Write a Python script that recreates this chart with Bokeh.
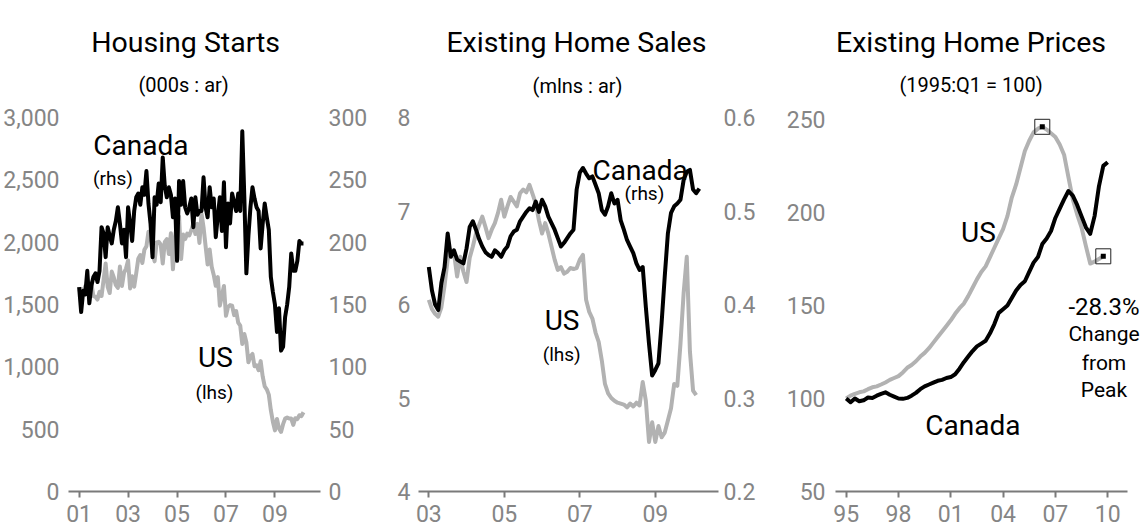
from bokeh.plotting import figure
from bokeh.layouts import row
from bokeh.models import Range1d, LinearAxis, FixedTicker, NumeralTickFormatter, Label
from bokeh.embed import file_html
from bokeh.resources import INLINE

# ---------------- data ----------------
# Panel 1: Housing starts, monthly from Jan 2001 (000s : annual rate)
starts_start_year = 2001
us_starts = [
    1600, 1625, 1590, 1649, 1605, 1636, 1670, 1567, 1562, 1540, 1602, 1568,
    1698, 1829, 1642, 1592, 1764, 1717, 1655, 1633, 1804, 1648, 1753, 1788,
    1854, 1629, 1726, 1643, 1751, 1867, 1897, 1833, 1939, 1967, 2083, 2057,
    1911, 1846, 1998, 2003, 1981, 1828, 2002, 2024, 1905, 2072, 1782, 2042,
    2144, 2207, 1864, 2061, 2025, 2068, 2054, 2095, 2151, 2065, 2147, 1994,
    2230, 2119, 1969, 1821, 1942, 1802, 1737, 1650, 1720, 1491, 1570, 1649,
    1409, 1480, 1495, 1490, 1415, 1448, 1354, 1330, 1183, 1264, 1197, 1037,
    1084, 1103, 1005, 1013, 973, 1046, 923, 844, 820, 777, 652, 560,
    490, 582, 505, 478, 540, 585, 594, 586, 585, 534, 588, 581,
    612, 605, 636,
]
canada_starts = [
    164, 144, 161, 158, 177, 151, 165, 172, 175, 168, 177, 212,
    207, 188, 212, 205, 199, 210, 217, 228, 215, 199, 210, 188,
    228, 215, 201, 225, 236, 239, 230, 244, 238, 257, 231, 215,
    188, 236, 230, 247, 232, 268, 245, 236, 244, 238, 220, 235,
    185, 249, 230, 249, 228, 223, 228, 235, 212, 236, 222, 225,
    225, 252, 228, 220, 244, 228, 235, 204, 221, 236, 209, 248,
    196, 231, 215, 239, 232, 225, 239, 225, 289, 236, 175, 205,
    228, 244, 235, 228, 225, 195, 215, 231, 220, 210, 172, 160,
    150, 128, 147, 113, 116, 140, 150, 164, 191, 177, 177, 185,
    201, 199, 199,
]
starts_ticks = [2001, 2003, 2005, 2007, 2009]
starts_tick_labels = ["01", "03", "05", "07", "09"]
starts_lhs_ticks = [0, 500, 1000, 1500, 2000, 2500, 3000]
starts_rhs_ticks = [0, 50, 100, 150, 200, 250, 300]

# Panel 2: Existing home sales, monthly from Jan 2003 (mlns : annual rate)
sales_start_year = 2003
us_sales = [
    6.05, 5.95, 5.90, 5.87, 5.97, 6.20, 6.48, 6.58, 6.55, 6.30, 6.51, 6.35,
    6.24, 6.50, 6.62, 6.76, 6.85, 6.94, 6.83, 6.71, 6.80, 6.87, 6.98, 7.12,
    6.94, 7.05, 7.15, 7.10, 7.05, 7.19, 7.23, 7.20, 7.28, 7.18, 7.08, 6.90,
    6.76, 6.87, 6.76, 6.62, 6.48, 6.37, 6.40, 6.33, 6.35, 6.39, 6.38, 6.39,
    6.48, 6.53, 6.05, 5.92, 5.85, 5.70, 5.60, 5.40, 5.15, 5.05, 5.00, 4.97,
    4.95, 4.94, 4.93, 4.90, 4.94, 4.91, 4.95, 4.92, 5.17, 4.97, 4.53, 4.74,
    4.53, 4.70, 4.58, 4.63, 4.76, 4.89, 5.15, 5.13, 5.58, 6.12, 6.51, 5.50,
    5.08, 5.03,
]
canada_sales = [
    0.440, 0.415, 0.400, 0.394, 0.423, 0.440, 0.476, 0.451, 0.458, 0.448, 0.446, 0.444,
    0.460, 0.483, 0.489, 0.480, 0.470, 0.462, 0.456, 0.453, 0.451, 0.458, 0.455, 0.451,
    0.458, 0.462, 0.473, 0.478, 0.480, 0.489, 0.494, 0.499, 0.503, 0.501, 0.510, 0.499,
    0.512, 0.505, 0.494, 0.487, 0.480, 0.471, 0.462, 0.466, 0.471, 0.476, 0.480, 0.523,
    0.541, 0.546, 0.540, 0.535, 0.537, 0.528, 0.519, 0.501, 0.496, 0.505, 0.519, 0.508,
    0.512, 0.490, 0.480, 0.469, 0.462, 0.455, 0.444, 0.437, 0.440, 0.397, 0.358, 0.324,
    0.330, 0.337, 0.380, 0.430, 0.476, 0.498, 0.505, 0.508, 0.512, 0.533, 0.542, 0.544,
    0.523, 0.519, 0.524,
]
sales_ticks = [2003, 2005, 2007, 2009]
sales_tick_labels = ["03", "05", "07", "09"]
sales_lhs_ticks = [4, 5, 6, 7, 8]
sales_rhs_ticks = [0.2, 0.3, 0.4, 0.5, 0.6]

# Panel 3: Existing home prices, quarterly from 1995:Q1 (1995:Q1 = 100)
prices_start_year = 1995
us_prices = [
    100.0, 101.5, 102.5, 103.3,
    103.8, 105.0, 106.0, 106.5,
    107.5, 108.6, 110.0, 111.0,
    112.0, 114.0, 116.5, 118.0,
    120.0, 122.5, 124.5, 127.0,
    130.0, 133.0, 136.0, 139.0,
    142.0, 145.5, 148.5, 151.0,
    155.0, 159.5, 164.0, 168.0,
    171.0, 176.0, 181.0, 186.0,
    191.0, 198.0, 208.0, 215.0,
    224.0, 233.0, 238.5, 243.0,
    245.0, 246.0, 244.5, 242.5,
    240.5, 236.5, 231.0, 219.0,
    207.0, 199.0, 192.0, 182.0,
    172.5, 173.5, 175.0, 176.4,
]
canada_prices = [
    100.0, 98.0, 100.0, 98.5,
    99.0, 100.5, 100.3, 101.5,
    102.5, 103.3, 102.0, 101.0,
    100.0, 99.8, 100.3, 101.5,
    103.0, 105.0, 106.5, 107.5,
    108.5, 109.5, 110.0, 111.0,
    111.5, 113.0, 116.0, 119.5,
    122.5, 125.5, 128.0, 129.5,
    131.0, 135.0, 140.0, 146.0,
    148.0, 150.0, 154.0, 158.0,
    161.0, 163.0, 168.0, 173.0,
    176.0, 183.0, 186.0, 190.0,
    197.0, 202.0, 207.0, 211.5,
    209.0, 204.0, 198.0, 192.0,
    188.5, 198.0, 214.0, 225.0,
    227.0,
]
prices_ticks = [1995, 1998, 2001, 2004, 2007, 2010]
prices_tick_labels = ["95", "98", "01", "04", "07", "10"]
prices_ticks_y = [50, 100, 150, 200, 250]

# ---------------- style ----------------
FONT = "Roboto"
BLACK = "#000000"
GRAY_LINE = "#b2b2b2"
TICK_GRAY = "#858585"
AXIS_GRAY = "#7a7a7a"
LW = 4
H = 531
TICK_FS = "23px"
TITLE_FS = 28.5
# the frame spans from the top of the figure down to the x axis (491 px);
# the labelled tick range occupies its lower 374 px
FRAME_FRAC = 491 / 374


def top_of(lo, hi):
    return lo + (hi - lo) * FRAME_FRAC


def base_fig(width, xr, yr, left, right):
    p = figure(width=width, height=H, x_range=Range1d(*xr),
               y_range=Range1d(yr[0], top_of(*yr)),
               output_backend="svg", toolbar_location=None,
               min_border_left=left, min_border_right=right,
               min_border_top=0, min_border_bottom=40)
    p.grid.visible = False
    p.outline_line_color = None
    p.background_fill_color = "white"
    p.border_fill_color = "white"
    return p


def style_y(ax, ticks, standoff, fmt=None):
    ax.ticker = FixedTicker(ticks=ticks)
    ax.axis_line_color = None
    ax.major_tick_line_color = None
    ax.minor_tick_line_color = None
    ax.major_tick_in = 0
    ax.major_tick_out = 0
    ax.minor_tick_in = 0
    ax.minor_tick_out = 0
    ax.major_label_text_font = FONT
    ax.major_label_text_font_size = TICK_FS
    ax.major_label_text_color = TICK_GRAY
    ax.major_label_standoff = standoff
    if fmt is not None:
        ax.formatter = fmt


def style_x(ax, ticks, labels):
    ax.ticker = FixedTicker(ticks=ticks)
    ax.major_label_overrides = {t: l for t, l in zip(ticks, labels)}
    ax.axis_line_color = AXIS_GRAY
    ax.axis_line_width = 2
    ax.major_tick_line_color = AXIS_GRAY
    ax.major_tick_line_width = 2
    ax.major_tick_in = 0
    ax.major_tick_out = 6
    ax.minor_tick_line_color = None
    ax.minor_tick_in = 0
    ax.minor_tick_out = 0
    ax.major_label_text_font = FONT
    ax.major_label_text_font_size = TICK_FS
    ax.major_label_text_color = TICK_GRAY
    ax.major_label_standoff = 7


def lab(p, x, y, text, size, align="center"):
    p.add_layout(Label(x=x, y=y, text=text, text_font=FONT,
                       text_font_size=f"{size}px", text_align=align,
                       text_baseline="alphabetic", text_color=BLACK))


def monthly(start, n):
    return [start + i / 12 for i in range(n)]


def quarterly(start, n):
    return [start + i / 4 for i in range(n)]


# ---------------- panel 1 ----------------
p1 = base_fig(380, (2000.566, 2010.862), (0, 3000), 66, 60)
p1.extra_y_ranges = {"rhs": Range1d(0, top_of(0, 300))}
style_x(p1.xaxis[0], starts_ticks, starts_tick_labels)
style_y(p1.yaxis[0], starts_lhs_ticks, 9, NumeralTickFormatter(format="0,0"))
r1 = LinearAxis(y_range_name="rhs")
style_y(r1, starts_rhs_ticks, 8)
p1.add_layout(r1, "right")
p1.line(monthly(starts_start_year, len(us_starts)), us_starts,
        line_color=GRAY_LINE, line_width=LW, line_join="round")
p1.line(monthly(starts_start_year, len(canada_starts)), canada_starts,
        line_color=BLACK, line_width=LW, line_join="round", y_range_name="rhs")
lab(p1, 2005.35, 3601, "Housing Starts", TITLE_FS)
lab(p1, 2005.27, 3257, "(000s : ar)", 20)
lab(p1, 2001.58, 2775, "Canada", 28, "left")
lab(p1, 2001.57, 2511, "(rhs)", 19, "left")
lab(p1, 2006.57, 1077, "US", 28)
lab(p1, 2006.53, 797, "(lhs)", 19)

# ---------------- panel 2 ----------------
p2 = base_fig(380, (2002.727, 2010.674), (4, 8), 38, 42)
p2.extra_y_ranges = {"rhs": Range1d(0.2, top_of(0.2, 0.6))}
style_x(p2.xaxis[0], sales_ticks, sales_tick_labels)
style_y(p2.yaxis[0], sales_lhs_ticks, 8)
r2 = LinearAxis(y_range_name="rhs")
style_y(r2, sales_rhs_ticks, 5, NumeralTickFormatter(format="0.0"))
p2.add_layout(r2, "right")
p2.line(monthly(sales_start_year, len(us_sales)), us_sales,
        line_color=GRAY_LINE, line_width=LW, line_join="round")
p2.line(monthly(sales_start_year, len(canada_sales)), canada_sales,
        line_color=BLACK, line_width=LW, line_join="round", y_range_name="rhs")
lab(p2, 2006.91, 8.80, "Existing Home Sales", TITLE_FS)
lab(p2, 2006.94, 8.342, "(mlns : ar)", 20)
lab(p2, 2008.60, 7.433, "Canada", 28)
lab(p2, 2008.71, 7.187, "(rhs)", 19)
lab(p2, 2006.53, 5.83, "US", 28)
lab(p2, 2006.52, 5.47, "(lhs)", 19)

# ---------------- panel 3 ----------------
p3 = base_fig(383, (1994.386, 2012.057), (50, 251), 75, 0)
style_x(p3.xaxis[0], prices_ticks, prices_tick_labels)
p3.xaxis[0].bounds = (1994.386, 2011.139)
style_y(p3.yaxis[0], prices_ticks_y, 10)
xus = quarterly(prices_start_year, len(us_prices))
xca = quarterly(prices_start_year, len(canada_prices))
p3.line(xus, us_prices, line_color=GRAY_LINE, line_width=LW, line_join="round")
p3.line(xca, canada_prices, line_color=BLACK, line_width=LW, line_join="round")
ipk = us_prices.index(max(us_prices))
iend = len(us_prices) - 1
mx = [xus[ipk], xus[iend]]
my = [us_prices[ipk], us_prices[iend]]
p3.scatter(mx, my, marker="square", size=15, fill_color="white", fill_alpha=0.0,
           line_color="#222222", line_width=1)
p3.scatter(mx, my, marker="square", size=5, fill_color=BLACK, line_color=None)
pct = (us_prices[iend] / us_prices[ipk] - 1) * 100
lab(p3, 2002.16, 291.3, "Existing Home Prices", TITLE_FS)
lab(p3, 2002.16, 268.2, "(1995:Q1 = 100)", 20)
lab(p3, 2002.59, 189.2, "US", 28)
lab(p3, 2002.27, 85.5, "Canada", 28)
lab(p3, 2009.79, 148.9, f"{pct:.1f}%", 24)
lab(p3, 2009.79, 134.9, "Change", 21)
lab(p3, 2009.79, 118.8, "from", 21)
lab(p3, 2009.79, 104.3, "Peak", 21)

layout = row(p1, p2, p3)
open("out.html", "w").write(file_html(layout, INLINE))
